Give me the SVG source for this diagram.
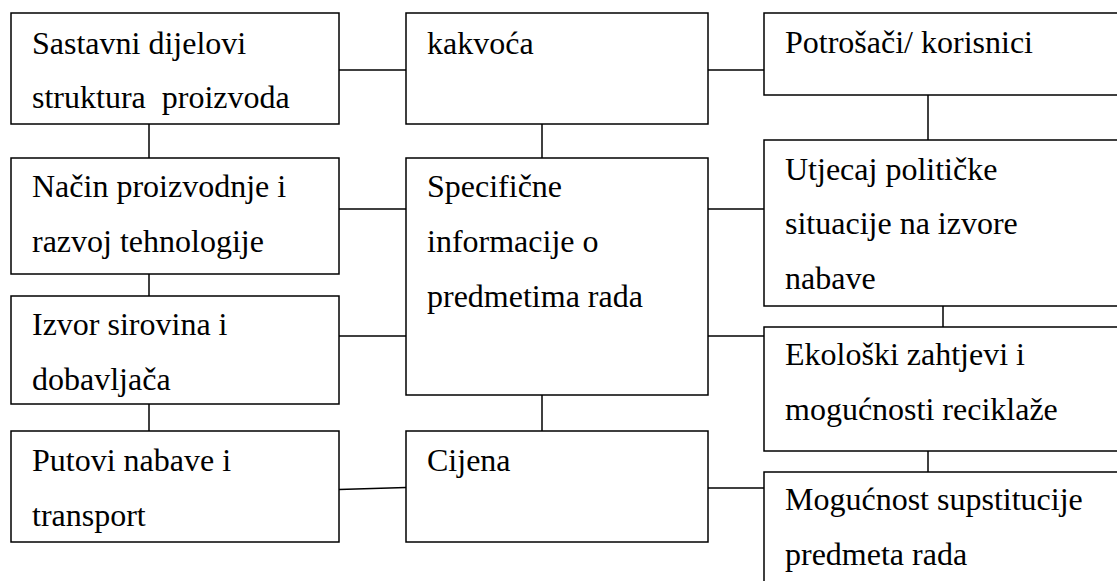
<svg xmlns="http://www.w3.org/2000/svg" width="1117" height="581" viewBox="0 0 1117 581">
<style>
.box{fill:#fff;stroke:#000;stroke-width:1.5}
.ln{stroke:#000;stroke-width:1.5;fill:none}
.t{font-family:'Liberation Serif','Times New Roman',serif;font-size:32px;fill:#000}
</style>
<rect width="1117" height="581" fill="#fff"/>
<g id="connectors">
<line class="ln" x1="339" y1="70" x2="406" y2="70"/>
<line class="ln" x1="708" y1="70" x2="764" y2="70"/>
<line class="ln" x1="149" y1="124" x2="149" y2="158"/>
<line class="ln" x1="542" y1="124" x2="542" y2="158"/>
<line class="ln" x1="928" y1="95" x2="928" y2="140"/>
<line class="ln" x1="339" y1="209" x2="406" y2="209"/>
<line class="ln" x1="708" y1="209" x2="764" y2="209"/>
<line class="ln" x1="149" y1="274" x2="149" y2="296"/>
<line class="ln" x1="339" y1="336" x2="406" y2="336"/>
<line class="ln" x1="708" y1="336" x2="764" y2="336"/>
<line class="ln" x1="943" y1="306" x2="943" y2="327"/>
<line class="ln" x1="149" y1="404" x2="149" y2="431"/>
<line class="ln" x1="542" y1="395" x2="542" y2="431"/>
<line class="ln" x1="928" y1="451" x2="928" y2="472"/>
<line class="ln" x1="339" y1="489.5" x2="406" y2="487.5"/>
<line class="ln" x1="708" y1="488" x2="764" y2="488"/>
</g>
<g class="t">
<g id="n1"><rect class="box" x="11" y="13" width="328" height="111"/><text x="32" y="54">Sastavni dijelovi</text><text x="32" y="108" xml:space="preserve">struktura  proizvoda</text></g>
<g id="n2"><rect class="box" x="406" y="13" width="302" height="111"/><text x="427" y="54">kakvoća</text></g>
<g id="n3"><rect class="box" x="764" y="13" width="370" height="82"/><text x="785" y="53">Potrošači/ korisnici</text></g>
<g id="n4"><rect class="box" x="11" y="158" width="328" height="116"/><text x="32" y="197">Način proizvodnje i</text><text x="32" y="252">razvoj tehnologije</text></g>
<g id="n5"><rect class="box" x="406" y="158" width="302" height="237"/><text x="427" y="197">Specifične</text><text x="427" y="252">informacije o</text><text x="427" y="307">predmetima rada</text></g>
<g id="n6"><rect class="box" x="764" y="140" width="370" height="166"/><text x="785" y="180">Utjecaj političke</text><text x="785" y="234">situacije na izvore</text><text x="785" y="289">nabave</text></g>
<g id="n7"><rect class="box" x="11" y="296" width="328" height="108"/><text x="32" y="335">Izvor sirovina i</text><text x="32" y="390">dobavljača</text></g>
<g id="n8"><rect class="box" x="764" y="327" width="370" height="124"/><text x="785" y="365">Ekološki zahtjevi i</text><text x="785" y="420">mogućnosti reciklaže</text></g>
<g id="n9"><rect class="box" x="11" y="431" width="328" height="111"/><text x="32" y="471">Putovi nabave i</text><text x="32" y="526">transport</text></g>
<g id="n10"><rect class="box" x="406" y="431" width="302" height="111"/><text x="427" y="471">Cijena</text></g>
<g id="n11"><rect class="box" x="764" y="472" width="370" height="130"/><text x="785" y="510">Mogućnost supstitucije</text><text x="785" y="565">predmeta rada</text></g>
</g>
</svg>
